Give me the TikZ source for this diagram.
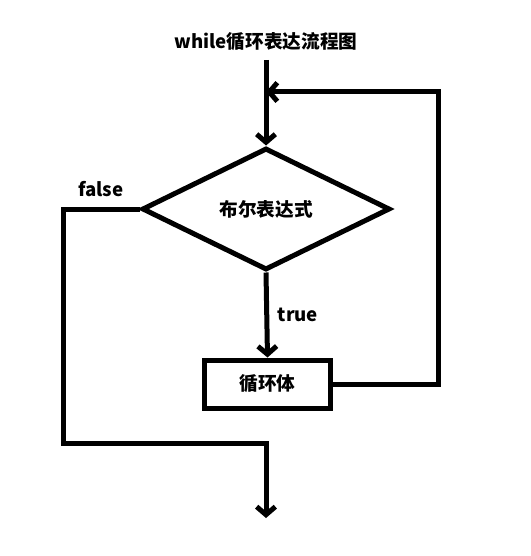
\documentclass[tikz,border=0pt]{standalone}
\usepackage{fontspec}
\setmainfont{Noto Sans CJK SC}
\usetikzlibrary{shapes.geometric, arrows.meta}

\tikzset{
    flow/.style={line width=3.75pt, -{Straight Barb[length=6pt, width=14pt]}},
    wire/.style={line width=3.75pt},
    label/.style={font=\bfseries\fontsize{14}{16}\selectfont},
}

\begin{document}
\begin{tikzpicture}[x=0.75pt, y=-0.75pt]
        \useasboundingbox (0, 0) rectangle (531, 556);

        % === Titolo ===
        \node[label] (title) at (266, 42) {while循环表达流程图};

        % === Nodi ===
        \node[draw, line width=3.75pt, diamond, aspect=2, inner sep=0pt, minimum width=186pt, minimum height=91.5pt, label] (cond) at (266, 209) {布尔表达式};
        \node[draw, line width=3.75pt, rectangle, inner sep=0pt, minimum width=94pt, minimum height=36pt, label] (body) at (267.5, 384) {循环体};

        \coordinate (start) at (266, 60);
        \coordinate (join) at (266, 92);
        \coordinate (loopR) at (438, 92);
        \coordinate (exitL) at (63, 443);
        \coordinate (end) at (266, 518);

        % === Connettori ===
        \draw[flow] (start) -- (cond.north);
        \draw[flow] (cond.south) -- node[right, label, xshift=3pt] {true} (body.north);
        \draw[flow] (body.east) -| (loopR) -- (join);
        \draw[flow] (cond.west) -| (exitL) -| (end);

        \node[label] (falseL) at (101, 189) {false};

    \end{tikzpicture}
\end{document}
